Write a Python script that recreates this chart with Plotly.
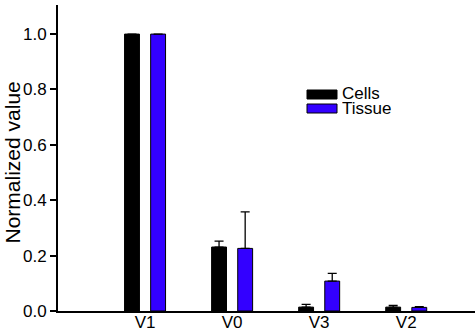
import plotly.graph_objects as go

categories = ["V1", "V0", "V3", "V2"]
cells = [1.0, 0.231, 0.014, 0.014]
cells_err = [None, 0.021, 0.010, 0.006]
tissue = [1.0, 0.226, 0.108, 0.013]
tissue_err = [None, 0.132, 0.028, 0.003]
series_names = ["Cells", "Tissue"]
series_colors = ["#000000", "#3300ff"]

fig = go.Figure()
for name, vals, errs, col in zip(series_names, [cells, tissue], [cells_err, tissue_err], series_colors):
    fig.add_trace(go.Bar(
        x=categories, y=vals, name=name,
        marker=dict(color=col, line=dict(color="#000000", width=1)),
        error_y=dict(type="data", array=errs, symmetric=False, arrayminus=[0]*len(errs),
                     color="#000000", thickness=1.3, width=4.5),
    ))

# manual legend (rectangular swatches like the reference)
L, B, W, H = 58, 311, 417, 306
def px(x):
    return (x - L) / W
def py(y):
    return (B - y) / H
legend_rows = [(90, 99, 93), (104, 113, 108)]
for (y0, y1, yc), name, col in zip(legend_rows, series_names, series_colors):
    fig.add_shape(type="rect", xref="paper", yref="paper",
                  x0=px(307), x1=px(337), y0=py(y1), y1=py(y0),
                  fillcolor=col, line=dict(color="black", width=1))
    fig.add_annotation(xref="paper", yref="paper", x=px(341), y=py(yc),
                       xanchor="left", yanchor="middle", text=name, showarrow=False,
                       height=14, borderpad=0, font=dict(size=17))

# y-axis title placed like the reference
fig.add_annotation(xref="paper", yref="paper", x=px(12), y=py(162.5),
                   xanchor="center", yanchor="middle", textangle=-90,
                   text="Normalized value", showarrow=False, font=dict(size=21))

fig.update_layout(
    width=475, height=333,
    margin=dict(l=58, r=0, t=5, b=22),
    paper_bgcolor="white", plot_bgcolor="white",
    barmode="group", bargap=0.4, bargroupgap=0.43,
    font=dict(family="Liberation Sans, Arial, sans-serif", color="black", size=17),
    showlegend=False,
    xaxis=dict(range=[-1, 3.79], showline=True, linecolor="black", linewidth=2,
               ticks="", showgrid=False, zeroline=False, ticklabelstandoff=-5,
               tickfont=dict(size=17), automargin=False),
    yaxis=dict(range=[0, 1.105], showline=True, linecolor="black", linewidth=2,
               ticks="outside", ticklen=6, tickwidth=2, tickcolor="black",
               tickvals=[0, 0.2, 0.4, 0.6, 0.8, 1.0], ticktext=["0.0", "0.2", "0.4", "0.6", "0.8", "1.0"],
               tickfont=dict(size=17),
               showgrid=False, zeroline=False, automargin=False),
)

fig.write_html("out.html")
